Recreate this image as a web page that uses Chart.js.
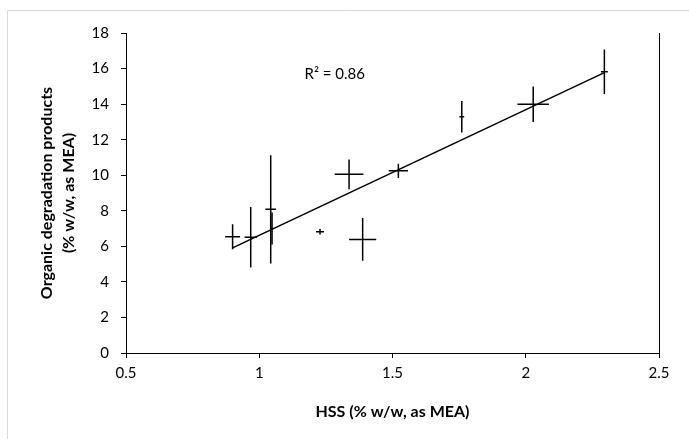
<!DOCTYPE html>
<html><head><meta charset="utf-8">
<script src="https://cdn.jsdelivr.net/npm/chart.js@4.4.0/dist/chart.umd.min.js"></script>
<style>html,body{margin:0;padding:0;background:#fff;}#wrap{width:689px;height:439px;}</style>
</head><body><div id="wrap"><canvas id="c" width="689" height="439"></canvas></div>
<script>
// ---- data ----
const hss         = [0.90, 0.968, 1.043, 1.048, 1.228, 1.337, 1.388, 1.522, 1.760, 2.028, 2.295];
const hssErr      = [0.028, 0.023, 0.020, 0.005, 0.015, 0.054, 0.051, 0.036, 0.009, 0.059, 0.013];
const organics    = [6.54, 6.51, 8.08, 7.01, 6.82, 10.05, 6.39, 10.25, 13.29, 13.99, 15.82];
const organicsErr = [0.70, 1.70, 3.05, 0.90, 0.15, 0.84, 1.20, 0.40, 0.89, 1.00, 1.25];
const xTicks = [0.5, 1, 1.5, 2, 2.5];
const yTicks = [0, 2, 4, 6, 8, 10, 12, 14, 16, 18];
const xTitle = 'HSS (% w/w, as MEA)';
const yTitle = ['Organic degradation products', '(% w/w, as MEA)'];
const r2Label = 'R² = 0.86';
const r2Pos = {x: 1.17, y: 15.7};

// least-squares trendline from the data
const n = hss.length;
const mx = hss.reduce((a, b) => a + b, 0) / n;
const my = organics.reduce((a, b) => a + b, 0) / n;
let sxy = 0, sxx = 0;
for (let i = 0; i < n; i++) { sxy += (hss[i] - mx) * (organics[i] - my); sxx += (hss[i] - mx) ** 2; }
const slope = sxy / sxx, intercept = my - slope * mx;
const xmin = Math.min(...hss), xmax = Math.max(...hss);
const trend = [{x: xmin, y: intercept + slope * xmin}, {x: xmax, y: intercept + slope * xmax}];

const FONT = 'Lato';
Chart.defaults.font.family = FONT;
Chart.defaults.color = '#000';

const decor = {
  id: 'decor',
  beforeDraw(chart) {
    const ctx = chart.ctx;
    ctx.save();
    ctx.fillStyle = '#fff';
    ctx.fillRect(0, 0, chart.width, chart.height);
    ctx.strokeStyle = '#d9d9d9';
    ctx.lineWidth = 1;
    ctx.beginPath();
    ctx.moveTo(7.5, chart.height);
    ctx.lineTo(7.5, 10.5);
    ctx.lineTo(chart.width, 10.5);
    ctx.stroke();
    ctx.restore();
  },
  afterDatasetsDraw(chart) {
    const {ctx, scales: {x, y}, chartArea: a} = chart;
    ctx.save();
    ctx.strokeStyle = '#000';
    ctx.lineWidth = 1.5;
    hss.forEach((v, i) => {
      const px = x.getPixelForValue(v), py = y.getPixelForValue(organics[i]);
      ctx.beginPath();
      ctx.moveTo(x.getPixelForValue(v - hssErr[i]), py);
      ctx.lineTo(x.getPixelForValue(v + hssErr[i]), py);
      ctx.moveTo(px, y.getPixelForValue(organics[i] - organicsErr[i]));
      ctx.lineTo(px, y.getPixelForValue(organics[i] + organicsErr[i]));
      ctx.stroke();
    });
    ctx.lineWidth = 1;
    ctx.beginPath();
    ctx.moveTo(a.right + 0.5, a.top);
    ctx.lineTo(a.right + 0.5, a.bottom);
    ctx.stroke();
    ctx.fillStyle = '#000';
    ctx.font = '15px ' + FONT;
    ctx.textBaseline = 'middle';
    ctx.textAlign = 'left';
    ctx.fillText(r2Label, x.getPixelForValue(r2Pos.x), y.getPixelForValue(r2Pos.y));
    ctx.restore();
  }
};

new Chart(document.getElementById('c'), {
  type: 'scatter',
  data: {
    datasets: [
      {data: hss.map((v, i) => ({x: v, y: organics[i]})), pointRadius: 0, pointHoverRadius: 0, showLine: false},
      {data: trend, showLine: true, borderColor: '#000', borderWidth: 1.5, pointRadius: 0, fill: false}
    ]
  },
  options: {
    responsive: false,
    animation: false,
    devicePixelRatio: 1,
    layout: {padding: {left: 36, top: 33, right: 30, bottom: 18}},
    plugins: {legend: {display: false}, tooltip: {enabled: false}},
    scales: {
      x: {
        type: 'linear', min: 0.5, max: 2.5,
        afterBuildTicks: s => { s.ticks = xTicks.map(v => ({value: v})); },
        afterFit: s => { s.height = 68; },
        grid: {display: true, drawOnChartArea: false, drawTicks: true, tickLength: 5, color: '#000'},
        border: {display: true, color: '#000', width: 1},
        ticks: {padding: 6, color: '#000', font: {size: 15}, maxRotation: 0, autoSkip: false, callback: v => String(v)},
        title: {display: true, text: xTitle, color: '#000', font: {size: 16, weight: 'bold'}, padding: 0}
      },
      y: {
        type: 'linear', min: 0, max: 18,
        afterBuildTicks: s => { s.ticks = yTicks.map(v => ({value: v})); },
        afterFit: s => { s.width = 90; },
        grid: {display: true, drawOnChartArea: false, drawTicks: true, tickLength: 5, color: '#000'},
        border: {display: true, color: '#000', width: 1},
        ticks: {padding: 12, color: '#000', font: {size: 15}, autoSkip: false, callback: v => String(v)},
        title: {display: true, text: yTitle, color: '#000', font: {size: 16, weight: 'bold', lineHeight: 1.35}, padding: 0}
      }
    }
  },
  plugins: [decor]
});
</script>
</body></html>
